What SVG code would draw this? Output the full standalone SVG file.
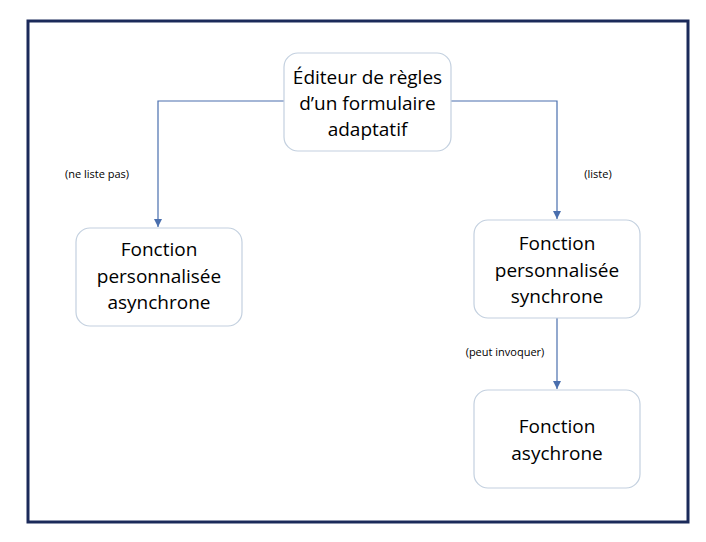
<svg xmlns="http://www.w3.org/2000/svg" width="706" height="542" viewBox="0 0 706 542">
<style>
.n{fill:#fff;stroke:#c3d0df;stroke-width:1.2}
.t{font-family:"Open Sans","Noto Sans",sans-serif;font-size:19px;fill:#000;text-anchor:middle}
.l{font-family:"Open Sans","Noto Sans",sans-serif;font-size:11px;fill:#000;text-anchor:middle}
.c{fill:none;stroke:#4a6fae;stroke-width:1.2}
</style>
<defs><marker id="a" markerWidth="8" markerHeight="8" refX="4" refY="7" orient="auto" markerUnits="userSpaceOnUse"><path d="M0,0L8,0L4,7z" fill="#4a6fae" transform="rotate(-90 4 4)"/></marker>
<marker id="b" viewBox="0 0 8 8" markerWidth="8" markerHeight="8" refX="8" refY="4" orient="auto" markerUnits="userSpaceOnUse"><path d="M0,0L8,4L0,8z" fill="#4a6fae"/></marker></defs>
<rect width="706" height="542" fill="#fff"/>
<rect x="28" y="21" width="660" height="501" fill="none" stroke="#1b2a5a" stroke-width="3"/>
<g id="connectors">
<path class="c" d="M284,101H158V227" marker-end="url(#b)"/>
<path class="c" d="M451,101H557V219" marker-end="url(#b)"/>
<path class="c" d="M557,318V389" marker-end="url(#b)"/>
<text class="l" x="97" y="178">(ne liste pas)</text>
<text class="l" x="598" y="178">(liste)</text>
<text class="l" x="505" y="356">(peut invoquer)</text>
</g>
<g id="editeur"><rect class="n" x="284" y="53" width="167" height="98" rx="14"/>
<text class="t" x="367.5" y="84">Éditeur de règles</text><text class="t" x="367.5" y="110">d’un formulaire</text><text class="t" x="367.5" y="136">adaptatif</text></g>
<g id="async"><rect class="n" x="76" y="228" width="166" height="98" rx="14"/>
<text class="t" x="159" y="256">Fonction</text><text class="t" x="159" y="283">personnalisée</text><text class="t" x="159" y="309">asynchrone</text></g>
<g id="sync"><rect class="n" x="474" y="220" width="166" height="98" rx="14"/>
<text class="t" x="557" y="250">Fonction</text><text class="t" x="557" y="277">personnalisée</text><text class="t" x="557" y="303">synchrone</text></g>
<g id="asychrone"><rect class="n" x="474" y="390" width="166" height="98" rx="14"/>
<text class="t" x="557" y="433">Fonction</text><text class="t" x="557" y="460">asychrone</text></g>
</svg>
